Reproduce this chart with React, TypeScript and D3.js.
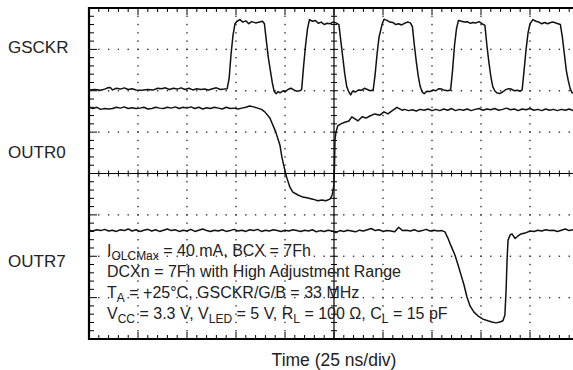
import React from "react";
import * as d3 from "d3";

// time in ns (25 ns/div, 10 div), value in screen divisions from bottom (0..8)
const gsckr: [number, number][] = [
  [0,6.02],[3,6.03],[6,6.01],[8,6.04],[10,6.08],[11,6.07],[12,6.02],[14,6.06],[16,6.04],[18,6.07],[20,6.03],[22,6.05],[24,6.02],[27,6.01],[30,6.03],[33,6.02],[35,6.06],[37,6.05],[39,6.07],[41,6.03],[43,6.06],[45,6.04],[47,6.07],[49,6.03],[51,6.06],[53,6.02],[55,6.05],[57,6.03],[59,6.04],[61,6.02],[63,6.05],[65,6.07],[67,6.03],[69,6.04],[70.5,6.05],
  [71.5,6.3],[72.5,6.9],[73.5,7.35],[74.5,7.62],[75.5,7.68],[77,7.72],[78.5,7.66],[80,7.69],[81.5,7.62],[83,7.67],[85,7.64],[87,7.66],[88.5,7.68],[89.5,7.62],
  [90.5,7.2],[91.5,6.8],[92.5,6.5],[93.5,6.2],[94.5,5.98],[95.5,5.93],[96.5,5.98],[97.5,5.95],[99,6.0],[100,5.97],[101.5,6.03],[103,6.06],[104.5,6.02],[106,5.99],[107.5,6.0],[108.5,6.03],
  [109.5,6.6],[110.5,7.1],[111.5,7.5],[112.5,7.72],[114,7.68],[115.5,7.7],[117,7.63],[118.5,7.66],[120,7.6],[121.5,7.63],[123,7.62],[124.5,7.66],[126,7.64],[127.5,7.6],
  [128.5,7.2],[129.5,6.8],[130.5,6.4],[131.5,6.1],[132.5,5.98],[133.5,5.9],[134.5,5.99],[136,5.97],[137.5,6.02],[139,6.01],[140.5,6.06],[142,6.03],[143.5,6.0],[145,6.02],
  [146,6.4],[147,6.9],[148,7.3],[149.5,7.6],[150.5,7.73],[152,7.7],[153.5,7.66],[155,7.65],[156.5,7.6],[158,7.62],[159.5,7.59],[161,7.63],[162.5,7.66],[164,7.64],[165,7.55],
  [166,7.1],[167,6.7],[168,6.35],[169,6.1],[170,5.97],[171,5.93],[172.5,5.99],[174,5.98],[175.5,6.02],[177,6.0],[178.5,6.05],[180,6.04],[181.5,6.01],[183,6.0],[184.5,6.02],
  [185.5,6.5],[186.5,7.1],[187.5,7.5],[188.5,7.7],[190,7.68],[191.5,7.66],[193,7.67],[194.5,7.63],[196,7.65],[197.5,7.64],[199,7.67],[200.5,7.62],[202,7.58],
  [203,7.1],[204,6.7],[205,6.35],[206,6.1],[207,6.0],[208,5.95],[209.5,5.93],[211,5.97],[212.5,6.02],[214,6.05],[215.5,6.04],[217,6.0],[218.5,6.01],[220,5.99],[221,6.02],
  [222,6.5],[223,7.0],[224,7.4],[225,7.62],[226.5,7.72],[228,7.68],[229.5,7.66],[231,7.62],[232.5,7.65],[234,7.62],[235.5,7.65],[237,7.66],[238.5,7.63],[240.5,7.6],
  [241.5,7.3],[242.5,6.9],[243.5,6.5],[244.5,6.25],[245.5,6.05],[246.5,5.95],[248,5.96],[250,5.98],
];

const outr0: [number, number][] = [
  [0,5.6],[2,5.57],[4,5.6],[6,5.55],[8,5.57],[10,5.56],[12,5.57],[14,5.6],[16,5.58],[18,5.61],[20,5.57],[22,5.59],[24,5.57],[26,5.58],[28,5.6],[30,5.56],[32,5.57],[34,5.6],[36,5.58],[38,5.57],[40,5.6],[42,5.58],[44,5.61],[46,5.57],[48,5.6],[50,5.58],[52,5.61],[54,5.57],[56,5.6],[58,5.56],[60,5.59],[62,5.57],[64,5.6],[66,5.58],[68,5.56],[70,5.6],[72,5.57],[74,5.58],[76,5.56],[78,5.58],[80,5.6],[82,5.63],[84,5.61],[86,5.58],[88,5.55],
  [89.7,5.49],[92.3,5.34],[95.3,5.0],[97.4,4.69],[98.4,4.4],[99.9,4.08],[100.9,3.9],[102.5,3.67],[104,3.55],[106.6,3.48],[109.1,3.43],[111.7,3.41],[114.2,3.38],[116.8,3.34],[118.8,3.36],[120.9,3.34],[122.9,3.38],[123.9,3.46],[124.4,3.55],[124.9,3.72],
  [125.2,4.08],[125.5,4.81],[126,5.0],[126.9,5.15],[128.5,5.2],[130.5,5.24],[132.6,5.27],[134.1,5.37],[135.7,5.32],[137.2,5.27],[139.3,5.37],[141.3,5.34],[143.3,5.39],[145.9,5.44],[148.4,5.41],[150.5,5.49],[152.5,5.44],[155.1,5.53],[157.1,5.6],[159.7,5.53],
  [161,5.55],[163,5.52],[165,5.54],[167,5.51],[169,5.55],[171,5.53],[173,5.56],[175,5.52],[177,5.55],[179,5.52],[181,5.56],[183,5.53],[185,5.57],[187,5.52],[189,5.55],[191,5.53],[193,5.56],[195,5.52],[197,5.55],[199,5.57],[201,5.53],[203,5.56],[205,5.54],[207,5.57],[209,5.53],[211,5.55],[213,5.58],[215,5.54],[217,5.56],[219,5.52],[221,5.56],[223,5.54],[225,5.57],[227,5.53],[229,5.55],[231,5.52],[233,5.56],[235,5.53],[237,5.55],[239,5.52],[241,5.55],[243,5.53],[245,5.56],[247,5.52],[250,5.54],
];

const outr7: [number, number][] = [
  [0,2.63],[2,2.61],[4,2.64],[6,2.62],[8,2.65],[10,2.61],[12,2.63],[14,2.6],[16,2.64],[18,2.62],[20,2.66],[22,2.61],[24,2.64],[26,2.6],[28,2.63],[30,2.65],[32,2.61],[34,2.64],[36,2.6],[38,2.63],[40,2.66],[42,2.62],[44,2.64],[46,2.6],[48,2.63],[50,2.61],[52,2.65],[54,2.6],[56,2.63],[58,2.66],[60,2.62],[62,2.6],[64,2.63],[66,2.61],[68,2.64],[70,2.6],[72,2.62],[74,2.65],[76,2.61],[78,2.63],[80,2.6],[82,2.64],[84,2.62],[86,2.65],[88,2.6],[90,2.63],[92,2.61],[94,2.64],[96,2.62],[98,2.6],[100,2.63],[102,2.61],[104,2.64],[106,2.62],[108,2.6],[110,2.63],[112,2.61],[114,2.64],[116,2.59],[118,2.62],[120,2.6],[122,2.63],[124,2.61],[126,2.57],[128,2.62],[130,2.6],[132,2.63],[134,2.61],[136,2.59],[138,2.63],[140,2.61],[142,2.64],[144,2.67],[146,2.62],[148,2.64],[150,2.6],[152,2.62],[154,2.61],[156,2.59],[158,2.7],[160,2.62],[162,2.63],[164,2.61],[166,2.64],[168,2.6],[170,2.62],[172,2.65],[174,2.61],[176,2.63],[178,2.61],[180,2.62],
  [181.6,2.59],[183.1,2.44],[184.7,2.25],[186.7,2.03],[188.3,1.79],[189.8,1.55],[191.3,1.31],[192.8,1.02],[194.4,0.8],[196.4,0.65],[198.4,0.56],[201,0.48],[203.5,0.44],[205.6,0.41],[207.6,0.39],[209.7,0.41],[211.2,0.44],[212.2,0.58],
  [212.8,1.18],[213.3,1.91],[213.8,2.39],[214.8,2.51],[215.8,2.54],[217.4,2.43],[218.9,2.49],[220.4,2.54],[222.5,2.56],[225,2.61],
  [227,2.6],[229,2.63],[231,2.61],[233,2.64],[235,2.62],[237,2.63],[239,2.6],[241,2.63],[243,2.66],[245,2.62],[247,2.64],[250,2.61],
];

const channelLabels = ["GSCKR", "OUTR0", "OUTR7"];
const channelLabelLevels = [7.04, 4.5, 1.87];

const noteLines: [string, boolean][][] = [
  [["I", false], ["OLCMax", true], [" = 40 mA, BCX = 7Fh", false]],
  [["DCXn = 7Fh with High Adjustment Range", false]],
  [["T", false], ["A", true], [" = +25°C, GSCKR/G/B = 33 MHz", false]],
  [["V", false], ["CC", true], [" = 3.3 V, V", false], ["LED", true], [" = 5 V, R", false], ["L", true], [" = 100 Ω, C", false], ["L", true], [" = 15 pF", false]],
];
const noteLevels = [2.0, 1.5, 1.0, 0.48];
const xTitle = "Time (25 ns/div)";

const W = 573, H = 370;
const L = 89, R = 579, T = 8, B = 339;
const FONT = "'Liberation Sans', Arial, Helvetica, sans-serif";

export default function App() {
  const x = d3.scaleLinear().domain([0, 250]).range([L, R]);
  const y = d3.scaleLinear().domain([0, 8]).range([B, T]);
  const line = d3.line<[number, number]>().x(d => x(d[0])).y(d => y(d[1]));

  const xMajor = d3.range(0, 251, 25);
  const xMinor = d3.range(0, 250.01, 5);
  const yMajor = d3.range(0, 9, 1);
  const yMinor = d3.range(0, 8.001, 0.2);
  const isMajorX = (v: number) => Math.abs(v / 25 - Math.round(v / 25)) < 1e-6;
  const isMajorY = (v: number) => Math.abs(v - Math.round(v)) < 1e-6;

  const dots: JSX.Element[] = [];
  xMajor.filter(v => v > 0 && v < 250 && v !== 125).forEach(v =>
    yMinor.forEach((w, i) => {
      if (w <= 0 || w >= 8) return;
      dots.push(<rect key={`dv${v}-${i}`} x={x(v) - 0.7} y={y(w) - 0.7} width={1.4} height={1.4} fill="#333" />);
    })
  );
  yMajor.filter(v => v > 0 && v < 8 && v !== 4).forEach(v =>
    xMinor.forEach((w, i) => {
      if (w <= 0 || w >= 250) return;
      dots.push(<rect key={`dh${v}-${i}`} x={x(w) - 0.7} y={y(v) - 0.7} width={1.4} height={1.4} fill="#333" />);
    })
  );

  const ticks: JSX.Element[] = [];
  xMinor.forEach((v, i) => {
    const len = isMajorX(v) ? 7 : 4;
    ticks.push(<line key={`tt${i}`} x1={x(v)} x2={x(v)} y1={T} y2={T + len} />);
    ticks.push(<line key={`tb${i}`} x1={x(v)} x2={x(v)} y1={B} y2={B - len} />);
    const c = isMajorX(v) ? 4 : 3;
    ticks.push(<line key={`tc${i}`} x1={x(v)} x2={x(v)} y1={y(4) - c} y2={y(4) + c} />);
  });
  yMinor.forEach((v, i) => {
    const len = isMajorY(v) ? 8 : 5;
    ticks.push(<line key={`tl${i}`} x1={L} x2={L + len} y1={y(v)} y2={y(v)} />);
    const c = isMajorY(v) ? 4 : 3;
    ticks.push(<line key={`tm${i}`} x1={x(125) - c} x2={x(125) + c} y1={y(v)} y2={y(v)} />);
  });

  return (
    <svg width={W} height={H} style={{ position: "absolute", left: 0, top: 0, display: "block", background: "#fff" }}>
      <rect x={0} y={0} width={W} height={H} fill="#fff" />
      <g>{dots}</g>
      <g stroke="#000" strokeWidth={1}>{ticks}</g>
      <line x1={L} x2={R} y1={y(4)} y2={y(4)} stroke="#000" strokeWidth={1.2} />
      <line x1={x(125)} x2={x(125)} y1={T} y2={B} stroke="#000" strokeWidth={1.2} />
      <g fill="none" stroke="#000" strokeWidth={2.2}>
        <line x1={L} x2={R} y1={T} y2={T} />
        <line x1={L} x2={R} y1={B} y2={B} />
        <line x1={L} x2={L} y1={T - 1.1} y2={B + 1.1} />
      </g>
      <g fill="none" stroke="#111" strokeWidth={1.5} strokeLinejoin="round">
        <path d={line(gsckr) || ""} />
        <path d={line(outr0) || ""} />
        <path d={line(outr7) || ""} />
      </g>
      <g fontFamily={FONT} fill="#222">
        {channelLabels.map((t, i) => (
          <text key={t} x={8} y={y(channelLabelLevels[i])} fontSize={17} dominantBaseline="central">{t}</text>
        ))}
        {noteLines.map((segs, i) => {
          let shifted = false;
          return (
            <text key={i} x={107} y={y(noteLevels[i])} fontSize={16}>
              {segs.map(([s, sub], j) => {
                let dy = 0;
                if (sub && !shifted) { dy = 4; shifted = true; }
                else if (!sub && shifted) { dy = -4; shifted = false; }
                return <tspan key={j} dy={dy} fontSize={sub ? 12 : 16}>{s}</tspan>;
              })}
            </text>
          );
        })}
        <text x={x(125)} y={360} fontSize={17.5} textAnchor="middle" dominantBaseline="central">{xTitle}</text>
      </g>
    </svg>
  );
}
